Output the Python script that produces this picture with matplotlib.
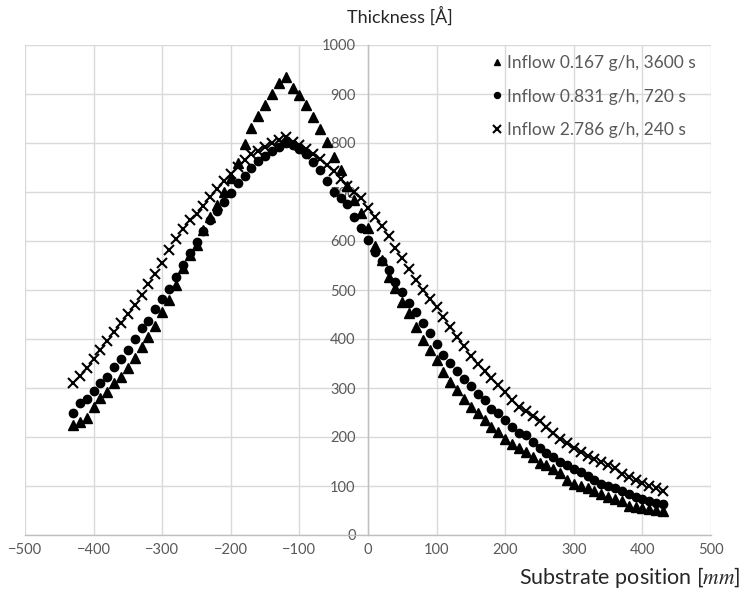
import matplotlib
matplotlib.use("Agg")
import matplotlib.pyplot as plt

plt.rcParams["font.family"] = ["Lato", "DejaVu Sans"]
plt.rcParams["mathtext.fontset"] = "stix"

# Substrate positions [mm]
position = list(range(-430, 431, 10))

# Thickness [Å] for each inflow condition
thick_0167 = [
    225, 230, 238, 262, 279, 292, 310, 322, 340, 362,
    383, 405, 427, 455, 480, 510, 545, 572, 592, 622,
    648, 673, 700, 728, 760, 798, 830, 855, 878, 900,
    922, 935, 912, 898, 878, 853, 828, 802, 771, 745,
    712, 683, 657, 626, 590, 561, 527, 504, 476, 453,
    425, 398, 378, 357, 333, 312, 295, 278, 262, 250,
    235, 220, 210, 195, 185, 177, 170, 160, 147, 142,
    135, 127, 112, 105, 100, 95, 90, 83, 77, 74,
    70, 60, 57, 56, 54, 52, 50,
]
thick_0831 = [
    250, 270, 278, 294, 310, 322, 343, 359, 378, 400,
    422, 437, 461, 482, 502, 527, 552, 575, 598, 620,
    642, 662, 680, 698, 718, 733, 748, 763, 773, 783,
    791, 800, 795, 788, 778, 762, 745, 723, 700, 688,
    676, 650, 626, 602, 578, 560, 540, 516, 495, 473,
    455, 432, 412, 390, 368, 352, 335, 318, 305, 287,
    275, 257, 248, 235, 220, 208, 204, 190, 177, 167,
    160, 150, 142, 135, 128, 120, 112, 105, 100, 95,
    90, 83, 78, 74, 70, 66, 63,
]
thick_2786 = [
    310, 324, 341, 359, 377, 396, 414, 432, 452, 470,
    490, 512, 532, 555, 582, 605, 625, 642, 655, 672,
    690, 706, 722, 737, 752, 765, 777, 784, 792, 800,
    806, 812, 803, 795, 787, 777, 767, 755, 742, 727,
    713, 700, 688, 668, 649, 630, 610, 585, 565, 543,
    520, 500, 482, 465, 445, 425, 405, 385, 365, 348,
    334, 320, 306, 292, 275, 262, 254, 242, 232, 220,
    208, 195, 188, 178, 170, 162, 155, 148, 142, 136,
    125, 118, 112, 106, 101, 96, 90,
]

labels = [
    "Inflow 0.167 g/h, 3600 s",
    "Inflow 0.831 g/h, 720 s",
    "Inflow 2.786 g/h, 240 s",
]

x_ticks = list(range(-500, 501, 100))
y_ticks = list(range(0, 1001, 100))

fig = plt.figure(figsize=(7.44, 5.93), dpi=100)
ax = fig.add_axes([25 / 744, 58 / 593, 686 / 744, 490 / 593])

grid_c = "#d9d9d9"
axis_c = "#bfbfbf"
text_c = "#595959"

ax.set_xlim(-500, 500)
ax.set_ylim(0, 1000)
ax.set_xticks(x_ticks)
ax.set_yticks(y_ticks)
ax.grid(True, color=grid_c, linewidth=1.0, zorder=0)
ax.set_axisbelow(True)

for side in ("top", "right"):
    ax.spines[side].set_visible(False)
ax.spines["left"].set_position(("data", 0))
ax.spines["left"].set_color(axis_c)
ax.spines["bottom"].set_color(axis_c)
ax.spines["left"].set_linewidth(1.0)
ax.spines["bottom"].set_linewidth(1.0)

ax.tick_params(axis="both", length=0, labelsize=10.5, labelcolor=text_c)
ax.tick_params(axis="y", pad=9)
ax.tick_params(axis="x", pad=6)

ax.plot(position, thick_0167, linestyle="none", marker="^", ms=6.5,
        color="black", label=labels[0], zorder=3)
ax.plot(position, thick_0831, linestyle="none", marker="o", ms=6,
        color="black", label=labels[1], zorder=3)
ax.plot(position, thick_2786, linestyle="none", marker="x", ms=7.5, mew=1.5,
        color="black", label=labels[2], zorder=3)

leg = ax.legend(loc="upper right", bbox_to_anchor=(0.995, 1.004), frameon=False,
                fontsize=12.5, labelcolor=text_c, handlelength=0.6,
                handletextpad=0.25, labelspacing=1.0, markerscale=0.72,
                borderaxespad=0.3)

fig.text(400 / 744, 1 - 16 / 593, "Thickness [Å]", ha="center", va="center",
         fontsize=13, color="#262626")
fig.text(740 / 744, 1 - 578 / 593, "Substrate position [$mm$]", ha="right",
         va="center", fontsize=15.5, color="#262626")

fig.savefig("out.png", dpi=100)
